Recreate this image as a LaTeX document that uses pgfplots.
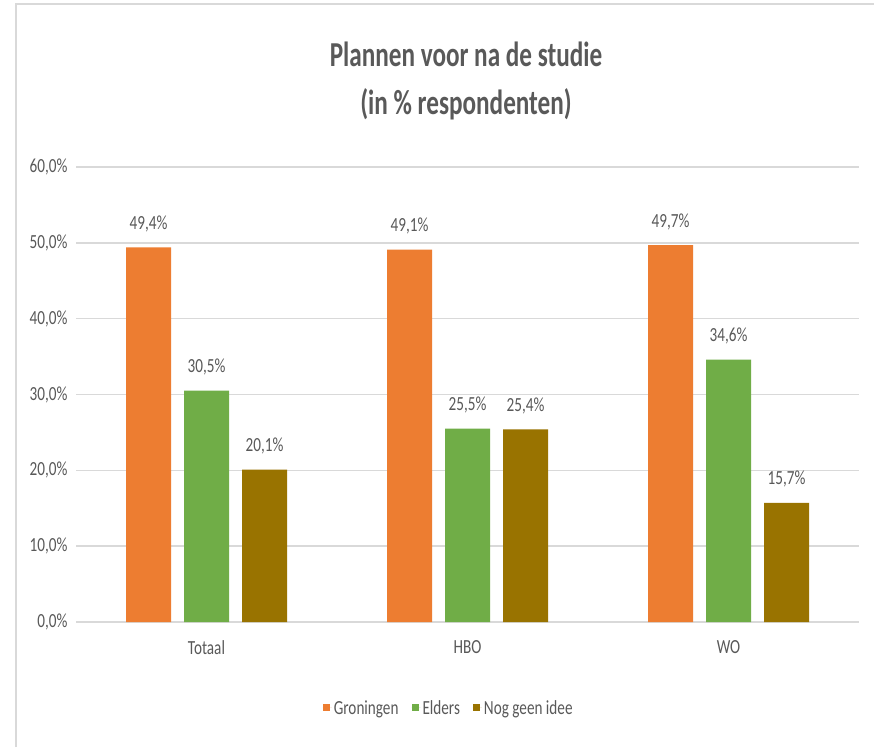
\documentclass[border=0pt]{standalone}
\usepackage{fontspec}
\setmainfont{Carlito}[FakeStretch=0.76]
\newfontfamily\titlefont{Carlito}[FakeStretch=0.72]
\usepackage{pgfplots}
\pgfplotsset{compat=1.18}
\definecolor{cOr}{HTML}{ED7D31}
\definecolor{cGr}{HTML}{70AD47}
\definecolor{cGo}{HTML}{997300}
\definecolor{cTx}{HTML}{595959}
\definecolor{cGrid}{HTML}{D9D9D9}
\begin{document}
\begin{tikzpicture}[x=1pt,y=1pt]
\useasboundingbox[fill=white] (0,0) rectangle (874,747);
\draw[cGrid,line width=2pt] (15.5,0) -- (15.5,742.5) -- (874,742.5);
\node[text=cTx,font=\titlefont\fontsize{35}{48}\selectfont\bfseries,align=center] at (466,666) {Plannen voor na de studie\\(in \% respondenten)};
\begin{axis}[
  at={(76pt,125pt)}, anchor=south west,
  scale only axis, width=783pt, height=455pt,
  ybar=13pt, bar width=45pt,
  xmin=-0.5, xmax=2.5, ymin=0, ymax=60,
  xtick=data, xticklabels={Totaal,HBO,WO},
  ytick={0,10,...,60},
  yticklabel={\pgfmathprintnumber[fixed,fixed zerofill,precision=1,use comma]{\tick}\%},
  /pgf/number format/assume math mode=true,
  ymajorgrids, grid style={cGrid,line width=1.5pt},
  axis line style={draw=none},
  x axis line style={draw=cGrid,line width=1.5pt},
  axis x line*=bottom,
  tick style={draw=none},
  ticklabel style={text=cTx,font=\fontsize{20}{23}\selectfont},
  xticklabel style={yshift=-11pt},
  yticklabel style={xshift=-5pt},
  nodes near coords={\pgfmathprintnumber[fixed,fixed zerofill,precision=1,use comma]{\pgfplotspointmeta}\%},
  nodes near coords style={text=cTx,font=\fontsize{20}{23}\selectfont,anchor=south,yshift=12pt},
  legend style={at={(0.476,-0.189)},anchor=center,draw=none,legend columns=3,
    font=\fontsize{20}{23}\selectfont,text=cTx,
    /tikz/every even column/.append style={column sep=11pt}},
  legend image code/.code={\path (0pt,0pt) -- (9pt,0pt);\fill[#1,draw=none] (0pt,-3.5pt) rectangle (7pt,3.5pt);},
  clip=false,
]
\addplot[fill=cOr,draw=none] coordinates {(0,49.4) (1,49.1) (2,49.7)};
\addplot[fill=cGr,draw=none] coordinates {(0,30.5) (1,25.5) (2,34.6)};
\addplot[fill=cGo,draw=none] coordinates {(0,20.1) (1,25.4) (2,15.7)};
\legend{Groningen,Elders,Nog geen idee}
\end{axis}
\end{tikzpicture}
\end{document}
